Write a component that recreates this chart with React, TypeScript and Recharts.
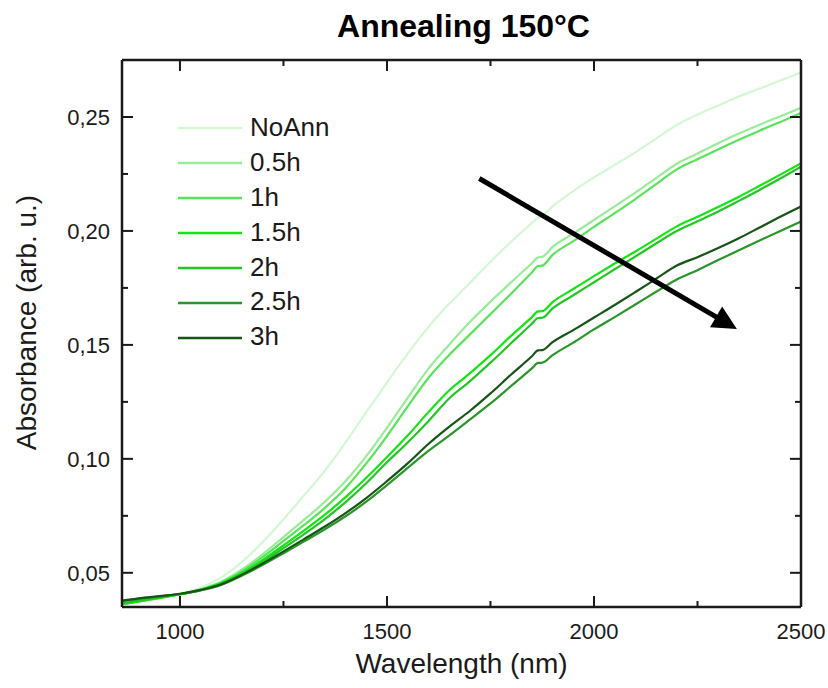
import { LineChart, Line, XAxis, YAxis, ReferenceLine, Legend } from 'recharts'

// ── Data ─────────────────────────────────────────────────────────────────────

const wavelengths = [
  860, 900, 950, 1000, 1050, 1100, 1150, 1200, 1250, 1300, 1350, 1400, 1450, 1500, 1550, 1600, 1650, 1700,
  1750, 1800, 1850, 1865, 1875, 1900, 1950, 2000, 2050, 2100, 2150, 2200, 2250, 2300, 2350, 2400, 2450, 2500,
]

const noAnn = [
  0.0365, 0.0377, 0.0391, 0.0408, 0.0435, 0.048, 0.0548, 0.0635, 0.0735, 0.084, 0.0948, 0.1072, 0.1205, 0.1335, 0.1462, 0.1578, 0.168, 0.1772,
  0.1865, 0.1953, 0.2035, 0.2058, 0.2068, 0.2108, 0.2175, 0.2235, 0.229, 0.2345, 0.2405, 0.2465, 0.251, 0.255, 0.259, 0.2625, 0.266, 0.2695,
]
const h05 = [
  0.0362, 0.0374, 0.0389, 0.0406, 0.0428, 0.0462, 0.0515, 0.0582, 0.0657, 0.0733, 0.0812, 0.0903, 0.1012, 0.1137, 0.1268, 0.1395, 0.15, 0.16,
  0.169, 0.1775, 0.1858, 0.1884, 0.1886, 0.193, 0.1988, 0.2048, 0.2108, 0.2168, 0.2232, 0.2295, 0.234, 0.2385, 0.2427, 0.2466, 0.2503, 0.254,
]
const h1 = [
  0.0362, 0.0374, 0.0389, 0.0406, 0.0426, 0.0458, 0.0507, 0.057, 0.064, 0.071, 0.0785, 0.0872, 0.098, 0.11, 0.123, 0.1355, 0.1455, 0.1545,
  0.1635, 0.1725, 0.1818, 0.1846, 0.1848, 0.1895, 0.1955, 0.2018, 0.2078, 0.214, 0.2205, 0.227, 0.2315, 0.2358, 0.24, 0.244, 0.2478, 0.2517,
]
const h15 = [
  0.0362, 0.0375, 0.039, 0.0406, 0.0425, 0.0455, 0.05, 0.0557, 0.062, 0.0686, 0.0755, 0.0832, 0.0917, 0.1008, 0.1102, 0.1205, 0.13, 0.1375,
  0.1455, 0.154, 0.1622, 0.1647, 0.1648, 0.1688, 0.1745, 0.1802, 0.1857, 0.191, 0.1965, 0.202, 0.2062, 0.2105, 0.215, 0.2198, 0.2247, 0.2297,
]
const h2 = [
  0.0366, 0.0378, 0.0392, 0.0406, 0.0424, 0.0452, 0.0495, 0.0548, 0.0608, 0.067, 0.0736, 0.081, 0.0893, 0.0985, 0.1072, 0.1165, 0.1265, 0.134,
  0.1422, 0.1508, 0.1593, 0.1618, 0.1619, 0.166, 0.1718, 0.1775, 0.1832, 0.1888, 0.1945, 0.2, 0.2042, 0.2085, 0.2132, 0.218, 0.223, 0.2282,
]
const h25 = [
  0.0376, 0.0386, 0.0396, 0.0407, 0.0423, 0.0447, 0.0488, 0.0535, 0.0586, 0.0638, 0.0691, 0.0748, 0.0812, 0.0885, 0.096, 0.1035, 0.1102, 0.1172,
  0.1243, 0.132, 0.1397, 0.1421, 0.1422, 0.1455, 0.151, 0.1568, 0.1622, 0.1677, 0.1733, 0.1787, 0.1828, 0.1872, 0.1915, 0.1958, 0.2, 0.2041,
]
const h3 = [
  0.0378, 0.0388, 0.0398, 0.0408, 0.0425, 0.045, 0.0492, 0.0541, 0.0594, 0.0648, 0.0703, 0.0762, 0.0828, 0.0902, 0.098, 0.1065, 0.114, 0.121,
  0.1287, 0.137, 0.145, 0.1476, 0.1477, 0.1512, 0.1565, 0.162, 0.1675, 0.1732, 0.179, 0.1848, 0.1885, 0.1925, 0.1968, 0.2015, 0.2062, 0.2107,
]

const seriesNames = ['NoAnn', '0.5h', '1h', '1.5h', '2h', '2.5h', '3h']
const seriesValues = [noAnn, h05, h1, h15, h2, h25, h3]
const seriesColors = ['#d4f8d4', '#98ec98', '#58e458', '#12e612', '#24c624', '#289628', '#175517']

const xMajor = [1000, 1500, 2000, 2500]
const xTicks = [1000, 1250, 1500, 1750, 2000, 2250, 2500]
const yMajor = [0.05, 0.1, 0.15, 0.2, 0.25]
const yTicks = [0.05, 0.075, 0.1, 0.125, 0.15, 0.175, 0.2, 0.225, 0.25]

// arrow drawn in data coordinates
const arrowFrom = { x: 1723, y: 0.223 }
const arrowTo = { x: 2345, y: 0.157 }

const data = wavelengths.map((w, i) => {
  const row: Record<string, number> = { w }
  seriesNames.forEach((n, s) => { row[n] = seriesValues[s][i] })
  return row
})

// ── Styles ───────────────────────────────────────────────────────────────────

const FONT = '"Liberation Sans", Arial, sans-serif'
const INK = '#1a1a1a'

// ── Ticks (drawn inward, like Origin) ────────────────────────────────────────

function BottomTick({ x, y, payload }: any) {
  const major = xMajor.includes(payload.value)
  return (
    <g>
      <line x1={x} y1={y} x2={x} y2={y - (major ? 11 : 6)} stroke={INK} strokeWidth={2} />
      {major && (
        <text x={x} y={y + 32} textAnchor="middle" fontFamily={FONT} fontSize={22} fill={INK}>
          {payload.value}
        </text>
      )}
    </g>
  )
}

function TopTick({ x, y, payload }: any) {
  const major = xMajor.includes(payload.value)
  return <line x1={x} y1={y} x2={x} y2={y + (major ? 11 : 6)} stroke={INK} strokeWidth={2} />
}

function LeftTick({ x, y, payload }: any) {
  const major = yMajor.includes(payload.value)
  return (
    <g>
      <line x1={x} y1={y} x2={x + (major ? 11 : 6)} y2={y} stroke={INK} strokeWidth={2} />
      {major && (
        <text x={x - 12} y={y + 8} textAnchor="end" fontFamily={FONT} fontSize={22} fill={INK}>
          {payload.value.toFixed(2).replace('.', ',')}
        </text>
      )}
    </g>
  )
}

function RightTick({ x, y, payload }: any) {
  const major = yMajor.includes(payload.value)
  return <line x1={x} y1={y} x2={x - (major ? 11 : 6)} y2={y} stroke={INK} strokeWidth={2} />
}

// ── Labels ───────────────────────────────────────────────────────────────────

function TitleLabel({ viewBox }: any) {
  return (
    <text x={viewBox.x + viewBox.width / 2 + 2} y={37} textAnchor="middle" fontFamily={FONT} fontSize={32} fontWeight={700} fill="#000">
      Annealing 150°C
    </text>
  )
}

function XTitle({ viewBox }: any) {
  return (
    <text x={viewBox.x + viewBox.width / 2} y={673} textAnchor="middle" fontFamily={FONT} fontSize={28} fill={INK}>
      Wavelength (nm)
    </text>
  )
}

function YTitle({ viewBox }: any) {
  const cx = 36
  const cy = viewBox.y + viewBox.height / 2 - 11
  return (
    <text x={cx} y={cy} transform={`rotate(-90 ${cx} ${cy})`} textAnchor="middle" fontFamily={FONT} fontSize={28} fill={INK}>
      Absorbance (arb. u.)
    </text>
  )
}

// ── Arrow ────────────────────────────────────────────────────────────────────

function Arrow({ x1, y1, x2, y2 }: any) {
  const dx = x2 - x1
  const dy = y2 - y1
  const len = Math.hypot(dx, dy)
  const ux = dx / len
  const uy = dy / len
  const hl = 24
  const hw = 12
  const bx = x2 - ux * hl
  const by = y2 - uy * hl
  return (
    <g>
      <line x1={x1} y1={y1} x2={bx + ux * 2} y2={by + uy * 2} stroke="#000" strokeWidth={5} />
      <polygon points={`${x2},${y2} ${bx - uy * hw},${by + ux * hw} ${bx + uy * hw},${by - ux * hw}`} fill="#000" />
    </g>
  )
}

// ── Legend ───────────────────────────────────────────────────────────────────

function LegendBox() {
  return (
    <div style={{ fontFamily: FONT, fontSize: 26, color: INK }}>
      {seriesNames.map((n, i) => (
        <div key={n} style={{ display: 'flex', alignItems: 'center', height: 34.9 }}>
          <svg width={64} height={4} style={{ display: 'block' }}>
            <line x1={0} y1={2} x2={64} y2={2} stroke={seriesColors[i]} strokeWidth={2.5} />
          </svg>
          <span style={{ marginLeft: 8, lineHeight: '30px', marginTop: -3 }}>{n}</span>
        </div>
      ))}
    </div>
  )
}

// ── Chart ────────────────────────────────────────────────────────────────────

export default function App() {
  return (
    <div style={{ position: 'absolute', left: 0, top: 0, width: 828, height: 688, background: '#fff' }}>
      <LineChart width={828} height={688} data={data} margin={{ top: 59, right: 0, bottom: 0, left: 0 }}>
        <XAxis
          dataKey="w"
          type="number"
          domain={[860, 2500]}
          allowDataOverflow
          ticks={xTicks}
          height={81}
          tickSize={0}
          tickMargin={0}
          tick={<BottomTick />}
          axisLine={{ stroke: INK, strokeWidth: 2.5 }}
          label={<XTitle />}
        />
        <XAxis
          xAxisId="top"
          orientation="top"
          dataKey="w"
          type="number"
          domain={[860, 2500]}
          allowDataOverflow
          ticks={xTicks}
          height={1}
          tickSize={0}
          tickMargin={0}
          tick={<TopTick />}
          axisLine={{ stroke: INK, strokeWidth: 2.5 }}
          label={<TitleLabel />}
        />
        <YAxis
          type="number"
          domain={[0.035, 0.275]}
          allowDataOverflow
          ticks={yTicks}
          width={122}
          tickSize={0}
          tickMargin={0}
          tick={<LeftTick />}
          axisLine={{ stroke: INK, strokeWidth: 2.5 }}
          label={<YTitle />}
        />
        <YAxis
          yAxisId="right"
          orientation="right"
          type="number"
          domain={[0.035, 0.275]}
          allowDataOverflow
          ticks={yTicks}
          width={27}
          tickSize={0}
          tickMargin={0}
          tick={<RightTick />}
          axisLine={{ stroke: INK, strokeWidth: 2.5 }}
        />
        {seriesNames.map((n, i) => (
          <Line
            key={n}
            dataKey={n}
            name={n}
            type="monotone"
            stroke={seriesColors[i]}
            strokeWidth={2.2}
            dot={false}
            activeDot={false}
            isAnimationActive={false}
          />
        ))}
        <ReferenceLine segment={[arrowFrom, arrowTo]} shape={<Arrow />} ifOverflow="visible" />
        <Legend
          content={<LegendBox />}
          layout="vertical"
          align="center"
          verticalAlign="middle"
          wrapperStyle={{ left: 178, top: 111, width: 'auto', height: 'auto' }}
        />
      </LineChart>
    </div>
  )
}
